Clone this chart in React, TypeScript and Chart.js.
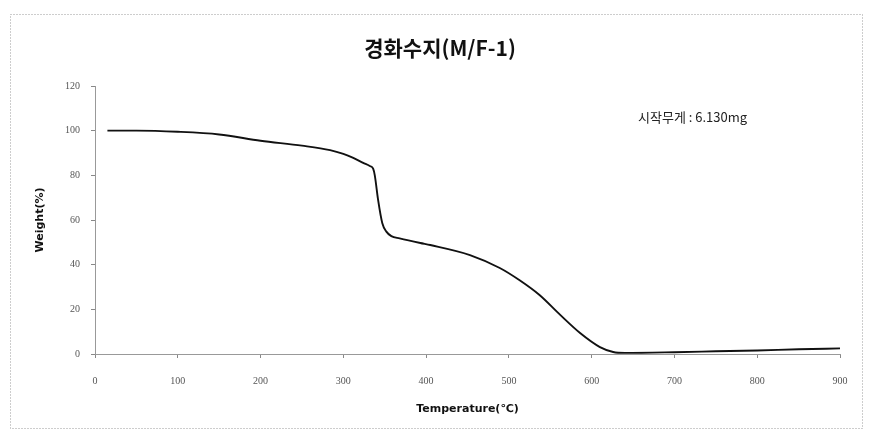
import React, { useEffect, useRef } from "react";
import { Chart, registerables } from "chart.js";

Chart.register(...registerables);

const temperature: number[] = [15, 50, 100, 150, 200, 250, 284, 300, 312, 324, 332, 336, 338, 342, 347, 352, 358, 368, 393, 405, 453, 489, 513, 537, 562, 586, 610, 626, 640, 700, 750, 800, 850, 900];
const weight: number[] = [100, 100, 99.5, 98.3, 95.5, 93.3, 91.3, 89.6, 87.8, 85.6, 84.2, 83, 80, 69, 58.7, 54.8, 52.8, 51.8, 49.7, 48.8, 44.3, 38.5, 33, 26.4, 17.5, 9.4, 3.1, 0.9, 0.5, 0.8, 1.2, 1.6, 2.1, 2.5];

const xTicks: number[] = [0, 100, 200, 300, 400, 500, 600, 700, 800, 900];
const yTicks: number[] = [0, 20, 40, 60, 80, 100, 120];

const chartTitle = "경화수지(M/F-1)";
const noteText = "시작무게 : 6.130mg";
const xTitle = "Temperature(℃)";
const yTitle = "Weight(%)";

const decorPlugin = {
  id: "decor",
  beforeDraw(chart: any) {
    const ctx = chart.ctx;
    ctx.save();
    ctx.fillStyle = "#ffffff";
    ctx.fillRect(0, 0, chart.width, chart.height);
    ctx.strokeStyle = "#9a9a9a";
    ctx.lineWidth = 1;
    ctx.setLineDash([1, 2]);
    ctx.strokeRect(10.5, 14.5, 852, 414);
    ctx.restore();
  },
  afterDraw(chart: any) {
    const ctx = chart.ctx;
    ctx.save();
    ctx.fillStyle = "#111";
    ctx.font = "bold 21px 'Noto Sans CJK KR', sans-serif";
    ctx.textAlign = "center";
    ctx.textBaseline = "middle";
    ctx.fillText(chartTitle, 440, 48);
    ctx.font = "13px 'Noto Sans CJK KR', sans-serif";
    ctx.fillStyle = "#222";
    ctx.textAlign = "left";
    ctx.fillText(noteText, 638, 117);
    ctx.restore();
  },
};

export default function App() {
  const ref = useRef<HTMLCanvasElement>(null);
  useEffect(() => {
    if (!ref.current) return;
    const chart = new Chart(ref.current, {
      type: "line",
      data: {
        datasets: [
          {
            data: temperature.map((t, i) => ({ x: t, y: weight[i] })),
            borderColor: "#111",
            borderWidth: 1.9,
            pointRadius: 0,
            cubicInterpolationMode: "monotone",
            fill: false,
          },
        ],
      },
      options: {
        animation: false,
        responsive: false,
        maintainAspectRatio: false,
        layout: { padding: { top: 86, left: 0, right: 34, bottom: 0 } },
        plugins: { legend: { display: false }, title: { display: false }, tooltip: { enabled: false } },
        scales: {
          x: {
            type: "linear",
            min: 0,
            max: 900,
            afterBuildTicks: (s: any) => { s.ticks = xTicks.map((v) => ({ value: v })); },
            afterFit: (s: any) => { s.height = 89; },
            grid: { display: true, drawOnChartArea: false, tickLength: 4, color: "#888" },
            border: { display: true, color: "#999", dash: [1, 2] },
            ticks: { color: "#555", font: { family: "'Liberation Serif', serif", size: 10 }, padding: 17, maxRotation: 0 },
            title: { display: true, text: xTitle, color: "#111", font: { family: "'DejaVu Sans', sans-serif", size: 11, weight: "bold" }, padding: { top: 0, bottom: 27 } },
          },
          y: {
            type: "linear",
            min: 0,
            max: 120,
            afterBuildTicks: (s: any) => { s.ticks = yTicks.map((v) => ({ value: v })); },
            afterFit: (s: any) => { s.width = 95; },
            grid: { display: true, drawOnChartArea: false, tickLength: 4, color: "#888" },
            border: { display: true, color: "#999", dash: [1, 2] },
            ticks: { color: "#555", font: { family: "'Liberation Serif', serif", size: 10 }, padding: 11 },
            title: { display: true, text: yTitle, color: "#111", font: { family: "'DejaVu Sans', sans-serif", size: 11, weight: "bold" }, padding: { top: 34, bottom: 0 } },
          },
        },
      },
      plugins: [decorPlugin],
    } as any);
    return () => chart.destroy();
  }, []);
  return (
    <div style={{ position: "absolute", left: 0, top: 0, width: 874, height: 443 }}>
      <canvas ref={ref} width={874} height={443} style={{ width: 874, height: 443, display: "block" }} />
    </div>
  );
}
